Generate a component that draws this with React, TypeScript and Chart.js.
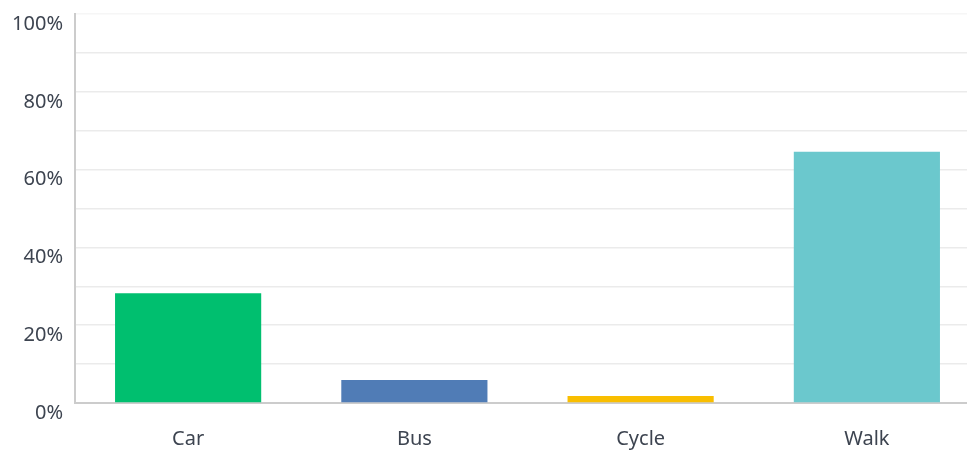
import React, { useEffect, useRef } from "react";
import { Chart, registerables } from "chart.js";

Chart.register(...registerables);

const categories = ["Car", "Bus", "Cycle", "Walk"];
const values = [28.2, 5.9, 1.8, 64.6];
const colors = ["#00bf6f", "#507cb6", "#f9be00", "#6bc8cd"];
const yTicks = [0, 20, 40, 60, 80, 100];

export default function App() {
  const ref = useRef<HTMLCanvasElement | null>(null);
  useEffect(() => {
    if (!ref.current) return;
    const font = { family: "'Noto Sans', sans-serif", size: 20 };
    const chart = new Chart(ref.current, {
      type: "bar",
      data: {
        labels: categories,
        datasets: [
          {
            data: values,
            backgroundColor: colors,
            barPercentage: 0.646,
            categoryPercentage: 1,
          },
        ],
      },
      options: {
        animation: false,
        responsive: false,
        maintainAspectRatio: false,
        layout: { padding: { top: 4, right: 0, left: 0, bottom: 0 } },
        plugins: { legend: { display: false }, tooltip: { enabled: false } },
        scales: {
          x: {
            grid: { display: false, drawTicks: false },
            border: { color: "#cccccc", width: 2 },
            ticks: { color: "#3d4450", font, padding: 24 },
            afterFit: (s: any) => {
              s.height = 48;
            },
          },
          y: {
            min: 0,
            max: 100,
            grid: {
              color: (c: any) => (c.tick && c.tick.value === 100 ? "#f6f6f6" : "#ebebeb"),
              lineWidth: 1.5,
              drawTicks: false,
            },
            border: { color: "#cccccc", width: 2 },
            ticks: {
              stepSize: 10,
              color: "#3d4450",
              font,
              padding: 12,
              labelOffset: 10,
              callback: (v: any) => (yTicks.includes(Number(v)) ? v + "%" : ""),
            },
            afterFit: (s: any) => {
              s.width = 75;
            },
          },
        },
      },
    });
    return () => chart.destroy();
  }, []);
  return (
    <div
      style={{
        position: "fixed",
        left: 0,
        top: 0,
        width: 967,
        height: 451,
        overflow: "hidden",
        background: "#fff",
      }}
    >
      <canvas
        ref={ref}
        width={980}
        height={461}
        style={{ display: "block", position: "absolute", left: 0, top: -10 }}
      />
    </div>
  );
}
